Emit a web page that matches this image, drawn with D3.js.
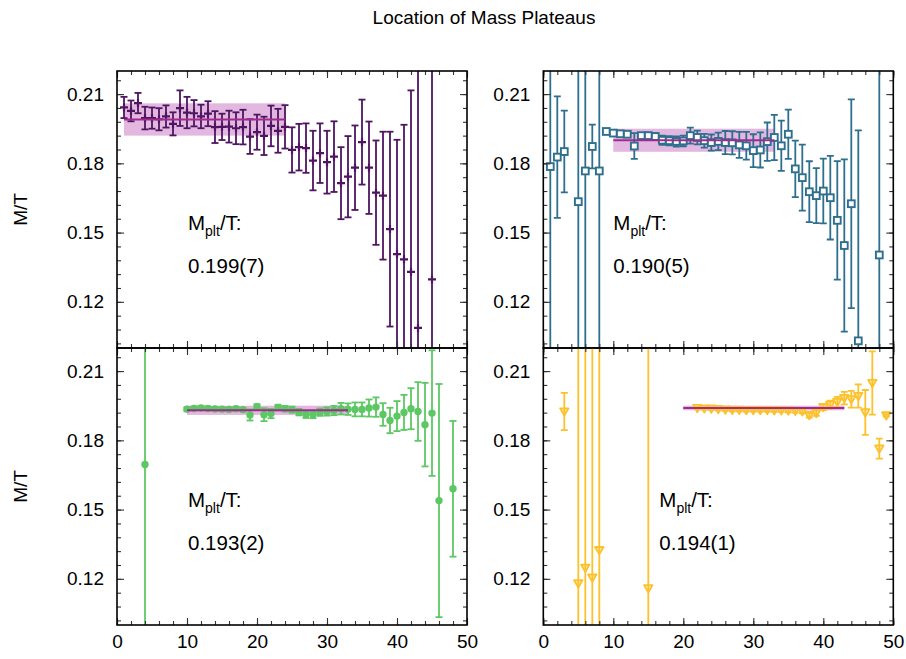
<!DOCTYPE html>
<html>
<head>
<meta charset="utf-8">
<script src="https://cdn.jsdelivr.net/npm/d3@7/dist/d3.min.js"></script>
<style>
  html, body { margin: 0; padding: 0; background: #fff; }
  svg { display: block; font-family: "Liberation Sans", Arial, sans-serif; }
</style>
</head>
<body>
<svg id="chart" width="906" height="659"></svg>
<script>
// ---- data: effective mass M/T per time slice, with errors ----
const tA = [1,2,3,4,5,6,7,8,9,10,11,12,13,14,15,16,17,18,19,20,21,22,23,24,25,26,27,28,29,30,31,32,33,34,35,36,37,38,39,40,41,42,43,45];
const mA = [0.2042,0.2027,0.2061,0.1996,0.1996,0.1991,0.2003,0.1971,0.2039,0.2020,0.2017,0.2003,0.2015,0.1957,0.1958,0.1959,0.1952,0.1957,0.1916,0.1935,0.1919,0.1962,0.1941,0.1958,0.1858,0.1870,0.1866,0.1812,0.1844,0.1805,0.1829,0.1714,0.1742,0.1781,0.1892,0.1781,0.1673,0.1660,0.1515,0.1407,0.1384,0.1330,0.1087,0.1297];
const eA = [0.0046,0.0045,0.0044,0.0049,0.0046,0.0048,0.0048,0.0050,0.0077,0.0068,0.0057,0.0051,0.0054,0.0069,0.0057,0.0069,0.0069,0.0075,0.0075,0.0076,0.0083,0.0088,0.0095,0.0094,0.0098,0.0101,0.0107,0.0129,0.0129,0.0136,0.0153,0.0156,0.0176,0.0183,0.0184,0.0200,0.0226,0.0277,0.0422,0.0495,0.0583,0.0786,0.1500,0.1200];

const tB = [1,2,3,5,6,7,8,9,10,11,12,13,14,15,16,17,18,19,20,21,22,23,24,25,26,27,28,29,30,31,32,33,34,35,36,37,38,39,40,41,42,43,44,45,48];
const mB = [0.1786,0.1827,0.1851,0.1634,0.1767,0.1873,0.1767,0.1938,0.1931,0.1928,0.1926,0.1875,0.1920,0.1920,0.1916,0.1900,0.1898,0.1895,0.1897,0.1920,0.1912,0.1898,0.1890,0.1895,0.1890,0.1889,0.1880,0.1876,0.1855,0.1858,0.1894,0.1912,0.1876,0.1926,0.1776,0.1738,0.1677,0.1660,0.1680,0.1651,0.1553,0.1444,0.1625,0.1031,0.1403];
const eB = [0.2000,0.0263,0.0177,0.2000,0.2000,0.0095,0.2000,0.0008,0.0008,0.0009,0.0010,0.0056,0.0012,0.0013,0.0015,0.0020,0.0020,0.0022,0.0023,0.0035,0.0030,0.0030,0.0035,0.0038,0.0050,0.0050,0.0056,0.0060,0.0071,0.0076,0.0083,0.0098,0.0109,0.0107,0.0122,0.0143,0.0132,0.0119,0.0140,0.0181,0.0257,0.0373,0.0452,0.0912,0.2000];

const tC = [4,10,11,12,13,14,15,16,17,18,19,20,21,22,23,24,25,26,27,28,29,30,31,32,33,34,35,36,37,38,39,40,41,42,43,44,45,46,48];
const mC = [0.1695,0.1935,0.1938,0.1940,0.1938,0.1936,0.1935,0.1934,0.1937,0.1933,0.1910,0.1946,0.1911,0.1916,0.1942,0.1937,0.1933,0.1922,0.1912,0.1912,0.1922,0.1925,0.1929,0.1937,0.1935,0.1934,0.1934,0.1940,0.1944,0.1912,0.1886,0.1905,0.1921,0.1937,0.1925,0.1868,0.1918,0.1539,0.1590];
const eC = [0.2000,0.0008,0.0008,0.0008,0.0008,0.0008,0.0008,0.0008,0.0008,0.0008,0.0024,0.0010,0.0028,0.0020,0.0012,0.0012,0.0013,0.0014,0.0015,0.0016,0.0016,0.0018,0.0020,0.0025,0.0025,0.0030,0.0030,0.0037,0.0042,0.0049,0.0055,0.0065,0.0076,0.0089,0.0127,0.0181,0.0272,0.0505,0.0294];

const tD = [3,5,6,7,8,15,22,23,24,25,26,27,28,29,30,31,32,33,34,35,36,37,38,39,40,41,42,43,44,45,46,47,48,49];
const mD = [0.1925,0.1180,0.1248,0.1205,0.1324,0.1159,0.1940,0.1938,0.1937,0.1935,0.1933,0.1932,0.1932,0.1931,0.1931,0.1931,0.1931,0.1930,0.1930,0.1929,0.1928,0.1926,0.1909,0.1918,0.1944,0.1954,0.1966,0.1983,0.1978,0.1992,0.1921,0.2048,0.1764,0.1908];
const eD = [0.0081,0.3000,0.3000,0.3000,0.3000,0.3000,0.0005,0.0005,0.0005,0.0005,0.0005,0.0006,0.0006,0.0006,0.0006,0.0006,0.0007,0.0007,0.0007,0.0008,0.0008,0.0009,0.0010,0.0012,0.0013,0.0018,0.0022,0.0027,0.0036,0.0050,0.0097,0.0137,0.0043,0.0005];

// plateau fits: value, error, fit window
const plateauValue = [0.199, 0.190, 0.193, 0.194];
const plateauError = [0.007, 0.005, 0.002, 0.001];
const plateauLabel = ["0.199(7)", "0.190(5)", "0.193(2)", "0.194(1)"];
const plateauFrom  = [1, 10, 10, 20];
const plateauTo    = [24, 33, 33, 43];

// axis ticks
const xTicks = [0, 10, 20, 30, 40, 50];
const yTicks = [0.12, 0.15, 0.18, 0.21];
const xMinor = d3.range(0, 51, 2);
const yMinor = d3.range(17, 37).map(i => +(i * 0.006).toFixed(3));

const title = "Location of Mass Plateaus";
const yLabel = "M/T";

// ---- layout ----
const svg = d3.select("#chart");
const colX = [[117, 467], [543.3, 893.3]];
const rowY = [[71, 348], [348, 625]];
const panels = [
  { t: tA, m: mA, e: eA, color: "#4f1561", marker: "plus",     col: 0, row: 0, noteDx: 71 },
  { t: tB, m: mB, e: eB, color: "#2e6e8e", marker: "square",   col: 1, row: 0, noteDx: 70 },
  { t: tC, m: mC, e: eC, color: "#5cc863", marker: "circle",   col: 0, row: 1, noteDx: 71 },
  { t: tD, m: mD, e: eD, color: "#fcc22c", marker: "triangle", col: 1, row: 1, noteDx: 116 }
];

svg.append("text")
  .attr("x", 484).attr("y", 24)
  .attr("text-anchor", "middle")
  .attr("font-size", 19)
  .text(title);

[0, 1].forEach(r => {
  const cy = (rowY[r][0] + rowY[r][1]) / 2;
  svg.append("text")
    .attr("transform", `translate(27,${cy}) rotate(-90)`)
    .attr("text-anchor", "middle")
    .attr("font-size", 19)
    .text(yLabel);
});

panels.forEach((p, i) => {
  const [x0, x1] = colX[p.col];
  const [y0, y1] = rowY[p.row];
  const x = d3.scaleLinear().domain([0, 50]).range([x0, x1]);
  const y = d3.scaleLinear().domain([0.10, 0.22]).range([y1, y0]);

  const g = svg.append("g");
  const clipId = "clip" + i;
  g.append("clipPath").attr("id", clipId)
    .append("rect").attr("x", x0).attr("y", y0).attr("width", x1 - x0).attr("height", y1 - y0);

  const plot = g.append("g").attr("clip-path", `url(#${clipId})`);

  // plateau band
  const pv = plateauValue[i], pe = plateauError[i];
  plot.append("rect")
    .attr("x", x(plateauFrom[i])).attr("width", x(plateauTo[i]) - x(plateauFrom[i]))
    .attr("y", y(pv + pe)).attr("height", y(pv - pe) - y(pv + pe))
    .attr("fill", "#dca6d8").attr("fill-opacity", 0.8);

  const data = p.t.map((t, k) => ({ t, m: p.m[k], e: p.e[k] }));

  // error bars
  const cap = 3.5;
  const eb = plot.append("g").attr("stroke", p.color).attr("stroke-width", 1.8).attr("fill", "none");
  data.forEach(d => {
    const cx = x(d.t), top = y(d.m + d.e), bot = y(d.m - d.e);
    eb.append("line").attr("x1", cx).attr("x2", cx).attr("y1", top).attr("y2", bot);
    eb.append("line").attr("x1", cx - cap).attr("x2", cx + cap).attr("y1", top).attr("y2", top);
    eb.append("line").attr("x1", cx - cap).attr("x2", cx + cap).attr("y1", bot).attr("y2", bot);
  });

  // markers
  const mk = plot.append("g");
  data.forEach(d => {
    const cx = x(d.t), cy = y(d.m);
    if (p.marker === "plus") {
      mk.append("path").attr("d", `M${cx - 4},${cy}H${cx + 4}M${cx},${cy - 4}V${cy + 4}`)
        .attr("stroke", p.color).attr("stroke-width", 2.2);
    } else if (p.marker === "square") {
      mk.append("rect").attr("x", cx - 3.4).attr("y", cy - 3.4).attr("width", 6.8).attr("height", 6.8)
        .attr("fill", "#fff").attr("stroke", p.color).attr("stroke-width", 1.9);
    } else if (p.marker === "circle") {
      mk.append("circle").attr("cx", cx).attr("cy", cy).attr("r", 3.7).attr("fill", p.color);
    } else {
      mk.append("path").attr("d", `M${cx - 4.2},${cy - 3.2}L${cx + 4.2},${cy - 3.2}L${cx},${cy + 4.2}Z`)
        .attr("fill", p.color).attr("fill-opacity", 0.35).attr("stroke", p.color).attr("stroke-width", 1.8)
        .attr("stroke-linejoin", "round");
    }
  });

  // plateau central value
  plot.append("line")
    .attr("x1", x(plateauFrom[i])).attr("x2", x(plateauTo[i]))
    .attr("y1", y(pv)).attr("y2", y(pv))
    .attr("stroke", "#a02a8e").attr("stroke-width", 2);

  // ticks on all four sides, pointing inward
  const tickCol = "#333";
  const addAxis = (axis, tx, ty) => {
    const a = g.append("g").attr("transform", `translate(${tx},${ty})`).call(axis);
    a.select(".domain").remove();
    a.selectAll("line").attr("stroke", tickCol).attr("stroke-width", 1.1);
    a.selectAll("text").attr("font-size", 19).attr("fill", "#000")
      .attr("font-family", "'Liberation Sans', Arial, sans-serif");
    return a;
  };
  addAxis(d3.axisLeft(y).tickValues(yMinor).tickSize(-4).tickFormat(""), x0, 0);
  addAxis(d3.axisRight(y).tickValues(yMinor).tickSize(-4).tickFormat(""), x1, 0);
  addAxis(d3.axisLeft(y).tickValues(yTicks).tickSize(-7).tickPadding(13).tickFormat(d3.format(".2f")), x0, 0);
  addAxis(d3.axisRight(y).tickValues(yTicks).tickSize(-7).tickFormat(""), x1, 0);
  addAxis(d3.axisBottom(x).tickValues(xMinor).tickSize(-4).tickFormat(""), 0, y1);
  addAxis(d3.axisTop(x).tickValues(xMinor).tickSize(-4).tickFormat(""), 0, y0);
  addAxis(d3.axisTop(x).tickValues(xTicks).tickSize(-7).tickFormat(""), 0, y0);
  addAxis(d3.axisBottom(x).tickValues(xTicks).tickSize(-7).tickPadding(10)
    .tickFormat(p.row === 1 ? d3.format("d") : ""), 0, y1);

  // frame
  g.append("rect").attr("x", x0).attr("y", y0).attr("width", x1 - x0).attr("height", y1 - y0)
    .attr("fill", "none").attr("stroke", "#000").attr("stroke-width", 1.6);

  // plateau annotation
  const note = g.append("text").attr("x", x0 + p.noteDx).attr("y", y0 + 159).attr("font-size", 20.5);
  note.append("tspan").text("M");
  note.append("tspan").attr("font-size", 14).attr("dy", 6).text("plt");
  note.append("tspan").attr("dy", -6).text("/T:");
  g.append("text").attr("x", x0 + p.noteDx).attr("y", y0 + 202).attr("font-size", 20.5)
    .text(plateauLabel[i]);
});
</script>
</body>
</html>
